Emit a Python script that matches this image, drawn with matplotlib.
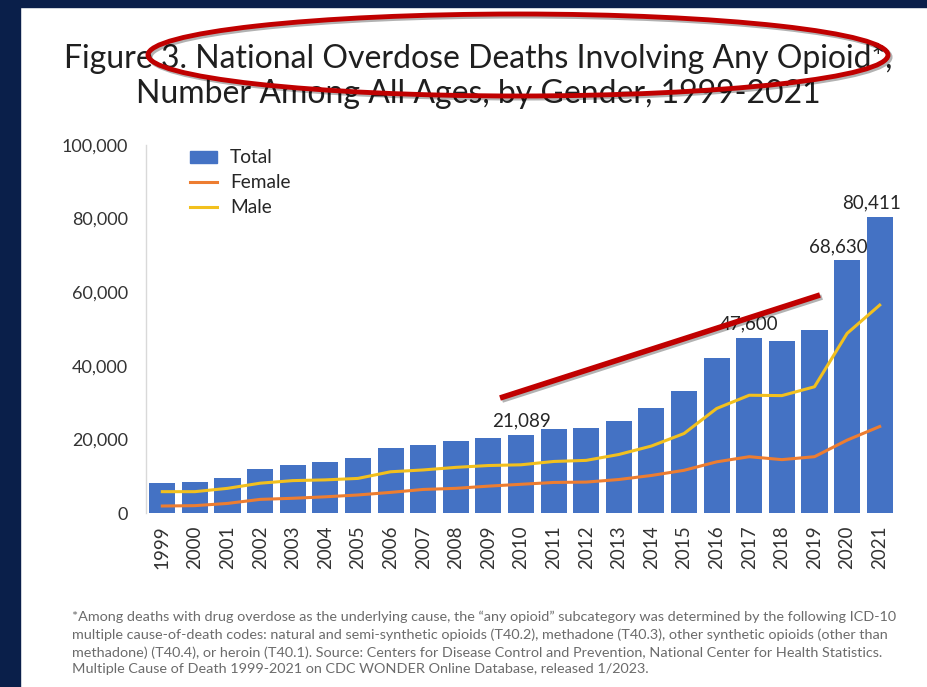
import matplotlib
matplotlib.use('Agg')
import matplotlib.pyplot as plt
import matplotlib.patheffects as pe
from matplotlib.patches import Ellipse, Rectangle
from matplotlib.lines import Line2D

FONT_NAME = 'Lato'
plt.rcParams['font.family'] = [FONT_NAME, 'DejaVu Sans']

# Datos
years = [str(y) for y in range(1999, 2022)]
total = [8048, 8407, 9496, 11920, 12940, 13756, 14918, 17545, 18516, 19582, 20422,
         21089, 22784, 23166, 25052, 28647, 33091, 42249, 47600, 46802, 49860, 68630, 80411]
female = [1900, 2000, 2600, 3700, 4000, 4400, 4900, 5600, 6400, 6700, 7300,
          7800, 8300, 8400, 9100, 10200, 11600, 13900, 15300, 14500, 15300, 19800, 23500]
male = [5800, 5800, 6700, 8100, 8800, 9000, 9400, 11200, 11700, 12400, 12900,
        13100, 14000, 14300, 15900, 18200, 21600, 28400, 32000, 31900, 34300, 48800, 56500]
labeled_years = ['2010', '2017', '2020', '2021']
yticks = [0, 20000, 40000, 60000, 80000, 100000]

W, H = 927, 687
fig = plt.figure(figsize=(W / 100, H / 100), dpi=100)
fig.patch.set_facecolor('white')

def px(x, y):
    return x / W, 1 - y / H

# marco azul oscuro
navy = '#0a1f4a'
fig.add_artist(Rectangle((0, 1 - 7 / H), 1, 7 / H, transform=fig.transFigure, color=navy, zorder=0))
fig.add_artist(Rectangle((0, 0), 20 / W, 1, transform=fig.transFigure, color=navy, zorder=0))

# Título
fig.text(*px(478, 58), 'Figure 3. National Overdose Deaths Involving Any Opioid*,',
         ha='center', va='center', fontsize=23, color='#1f1f1f')
fig.text(*px(478, 94), 'Number Among All Ages, by Gender, 1999-2021',
         ha='center', va='center', fontsize=23, color='#1f1f1f')

# Ejes
x0, x1 = 146, 896
y_top, y_bot = 145, 513
ax = fig.add_axes([x0 / W, 1 - y_bot / H, (x1 - x0) / W, (y_bot - y_top) / H])
ax.set_facecolor('none')
xs = list(range(len(years)))
ax.bar(xs, total, width=0.8, color='#4472c4', zorder=2)
ax.plot(xs, female, color='#ed7d31', lw=2.2, zorder=3)
ax.plot(xs, male, color='#f2c01e', lw=2.2, zorder=3)
ax.set_xlim(-0.5, len(years) - 0.5)
ax.set_ylim(0, 100000)
ax.set_yticks(yticks)
ax.set_yticklabels([f'{v:,}' for v in yticks])
ax.set_xticks(xs)
ax.set_xticklabels(years, rotation=90)
ax.tick_params(axis='y', length=0, labelsize=13, colors='#333333', pad=13)
ax.tick_params(axis='x', length=0, labelsize=13.5, colors='#333333', pad=9)
for s in ['top', 'right', 'bottom']:
    ax.spines[s].set_visible(False)
ax.spines['left'].set_color('#d9d9d9')
ax.spines['left'].set_linewidth(1)

for y in labeled_years:
    i = years.index(y)
    dx = -6 if y in ('2020', '2021') else 0
    ax.annotate(f'{total[i]:,}', (i, total[i]), xytext=(dx, 4), textcoords='offset points',
                ha='center', va='bottom', fontsize=13.5, color='#262626')

# Leyenda
handles = [Rectangle((0, 0), 1, 1, color='#4472c4'),
           Line2D([], [], color='#ed7d31', lw=2.2),
           Line2D([], [], color='#f2c01e', lw=2.2)]
ax.legend(handles, ['Total', 'Female', 'Male'], loc='upper left', bbox_to_anchor=(0.035, 1.035),
          frameon=False, fontsize=13.8, handlelength=1.45, handleheight=0.6, labelspacing=0.42,
          handletextpad=0.65, labelcolor='#262626')

# Nota al pie
foot = ('*Among deaths with drug overdose as the underlying cause, the \u201cany opioid\u201d subcategory was determined by the following ICD-10\n'
        'multiple cause-of-death codes: natural and semi-synthetic opioids (T40.2), methadone (T40.3), other synthetic opioids (other than\n'
        'methadone) (T40.4), or heroin (T40.1). Source: Centers for Disease Control and Prevention, National Center for Health Statistics.\n'
        'Multiple Cause of Death 1999-2021 on CDC WONDER Online Database, released 1/2023.')
fig.text(*px(72, 611), foot, ha='left', va='top', fontsize=10.4, color='#6b6b6b', linespacing=1.48)

# Anotaciones rojas
red = '#c00000'
shadow = [pe.SimpleLineShadow(offset=(1.5, -1.5), alpha=0.3), pe.Normal()]
ell = Ellipse(px(518, 55), 740 / W, 82 / H, angle=0, transform=fig.transFigure,
              fill=False, ec=red, lw=3.5, zorder=5, path_effects=shadow)
fig.add_artist(ell)
fig.add_artist(Line2D([500 / W, 820 / W], [1 - 398 / H, 1 - 295 / H], transform=fig.transFigure,
                      color=red, lw=4, zorder=5, solid_capstyle='butt', path_effects=shadow))

fig.savefig('out.png', dpi=100)
